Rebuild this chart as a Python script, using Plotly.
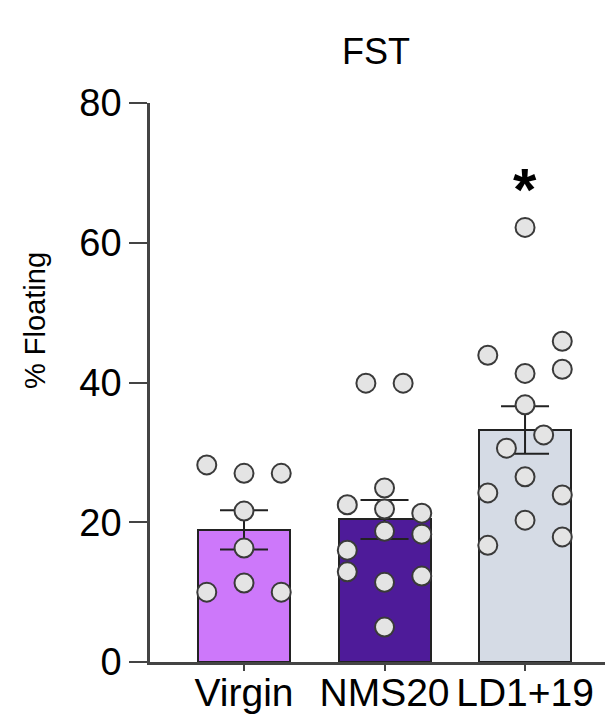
import plotly.graph_objects as go

groups = ["Virgin", "NMS20", "LD1+19"]
means = [18.9, 20.4, 33.2]
sems = [2.8, 2.8, 3.4]
bar_colors = ["#cd78fa", "#4e1b99", "#d5dbe5"]

virgin_vals = [28.2, 27.0, 27.0, 21.6, 16.3, 11.3, 10.0, 10.0]
virgin_cols = [-1, 0, 1, 0, 0, 0, -1, 1]

nms_vals = [39.9, 39.9, 24.9, 22.5, 21.9, 21.3, 18.7, 18.3, 16.0, 12.9, 12.3, 11.4, 5.0]
nms_cols = [-0.5, 0.5, 0, -1, 0, 1, 0, 1, -1, -1, 1, 0, 0]

ld_vals = [62.2, 45.9, 43.9, 41.9, 41.3, 36.8, 32.5, 30.6, 26.5, 24.2, 23.9, 20.3, 17.9, 16.7]
ld_cols = [0, 1, -1, 1, 0, 0, 0.5, -0.5, 0, -1, 1, 0, 1, -1]

y_ticks = [0, 20, 40, 60, 80]
sig_label = "*"
sig_value = 67.6

FONT = "Liberation Sans, Arial, Helvetica, sans-serif"
COL_STEP = 0.265

fig = go.Figure()
fig.add_trace(go.Bar(
    x=list(range(len(groups))), y=means,
    width=0.655,
    marker=dict(color=bar_colors, line=dict(color="#222222", width=2)),
    error_y=dict(type="data", array=sems, visible=True, color="#222222",
                 thickness=2, width=24),
    showlegend=False,
))

for gi, (vals, cols) in enumerate([(virgin_vals, virgin_cols), (nms_vals, nms_cols), (ld_vals, ld_cols)]):
    fig.add_trace(go.Scatter(
        x=[gi + c * COL_STEP for c in cols], y=vals, mode="markers",
        marker=dict(size=19, color="#e4e4e4", line=dict(color="#3a3a3a", width=2)),
        showlegend=False, cliponaxis=False,
    ))

fig.add_annotation(x=2, y=sig_value, text="<b>" + sig_label + "</b>", showarrow=False,
                   xanchor="center", yanchor="middle",
                   font=dict(family=FONT, size=60, color="black"))

fig.add_annotation(xref="paper", yref="paper", x=(35 - 150) / 463, y=(662 - 321) / 559,
                   text="% Floating", textangle=-90, showarrow=False,
                   xanchor="center", yanchor="middle",
                   font=dict(family=FONT, size=29, color="black"))

fig.add_annotation(xref="paper", yref="paper", x=(376 - 150) / 463, y=(662 - 51) / 559,
                   text="FST", showarrow=False, xanchor="center", yanchor="middle",
                   font=dict(family=FONT, size=36, color="black"))

# page body has an 8px default margin, so the figure is sized/offset to compensate
fig.update_layout(
    width=605, height=709,
    margin=dict(l=142, r=0, t=95, b=55, autoexpand=False),
    plot_bgcolor="white", paper_bgcolor="white",
    bargap=0,
    xaxis=dict(range=[-0.669, 2.626], tickvals=list(range(len(groups))), ticktext=groups,
               showline=True, linecolor="#444444", linewidth=2.5,
               ticks="outside", ticklen=6, tickwidth=2, tickcolor="#444444",
               showgrid=False, zeroline=False, automargin=False,
               ticklabelstandoff=-12,
               tickfont=dict(family=FONT, size=39, color="black")),
    yaxis=dict(range=[0, 80], tickvals=y_ticks,
               showline=True, linecolor="#444444", linewidth=2.5,
               ticks="outside", ticklen=18, tickwidth=2, tickcolor="#444444",
               showgrid=False, zeroline=False, automargin=False,
               tickfont=dict(family=FONT, size=38, color="black")),
)

fig.write_html("out.html")
